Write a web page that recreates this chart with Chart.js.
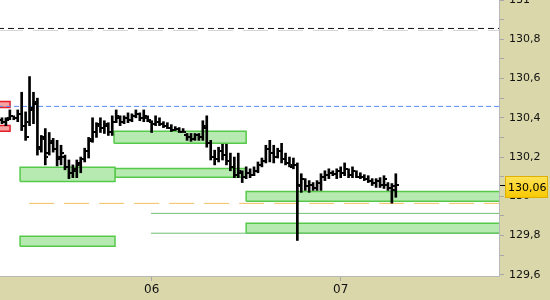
<!doctype html>
<html lang="en">
<head>
<meta charset="utf-8">
<title>Price chart</title>
<script src="https://cdn.jsdelivr.net/npm/chart.js"></script>
<style>
  html, body { margin: 0; padding: 0; background: #fff; }
  #wrap { width: 550px; height: 300px; }
</style>
</head>
<body>
<div id="wrap"><canvas id="price-chart"></canvas></div>

<script>
// half-hour bars, x = bar number from the left edge
var high = [130.40,130.40,130.44,130.41,130.44,130.53,130.43,130.61,130.53,130.50,
  130.31,130.345,130.325,130.295,130.285,130.26,130.21,130.185,130.16,130.185,
  130.20,130.245,130.30,130.40,130.375,130.40,130.385,130.375,130.41,130.44,
  130.41,130.41,130.425,130.42,130.44,130.425,130.44,130.41,130.385,130.41,
  130.40,130.38,130.375,130.365,130.355,130.35,130.345,130.32,130.32,130.32,
  130.32,130.385,130.41,130.285,130.235,130.25,130.265,130.265,130.22,130.20,
  130.22,130.13,130.15,130.14,130.15,130.175,130.195,130.26,130.285,130.26,
  130.245,130.27,130.22,130.20,130.195,130.17,130.115,130.09,130.08,130.07,
  130.08,130.115,130.13,130.14,130.13,130.14,130.15,130.17,130.14,130.15,
  130.13,130.12,130.11,130.105,130.09,130.09,130.095,130.105,130.07,130.065,
  130.115];
var low = [130.37,130.36,130.39,130.39,130.38,130.335,130.285,130.36,130.37,130.21,
  130.225,130.16,130.21,130.225,130.155,130.16,130.135,130.09,130.095,130.095,
  130.12,130.175,130.195,130.275,130.30,130.325,130.32,130.31,130.31,130.375,
  130.36,130.37,130.375,130.38,130.40,130.385,130.38,130.38,130.325,130.36,
  130.36,130.35,130.345,130.33,130.335,130.325,130.325,130.285,130.28,130.285,
  130.285,130.285,130.25,130.185,130.16,130.175,130.185,130.16,130.13,130.095,
  130.095,130.07,130.09,130.095,130.105,130.12,130.15,130.17,130.175,130.17,
  130.195,130.17,130.16,130.15,130.14,129.775,130.02,130.03,130.02,130.03,
  130.03,130.03,130.08,130.09,130.105,130.09,130.095,130.105,130.095,130.095,
  130.095,130.09,130.08,130.07,130.055,130.045,130.045,130.04,130.03,129.965,
  129.995];
var open = [130.39,130.38,130.40,130.41,130.40,130.42,130.36,130.38,130.44,130.47,
  130.25,130.30,130.22,130.27,130.24,130.19,130.20,130.15,130.12,130.13,
  130.16,130.19,130.23,130.29,130.33,130.37,130.35,130.36,130.33,130.38,
  130.40,130.38,130.40,130.39,130.41,130.42,130.40,130.40,130.38,130.37,
  130.38,130.37,130.36,130.35,130.34,130.345,130.33,130.31,130.30,130.29,
  130.31,130.30,130.36,130.27,130.20,130.19,130.23,130.21,130.18,130.15,
  130.11,130.12,130.10,130.12,130.11,130.13,130.16,130.18,130.24,130.22,
  130.20,130.23,130.19,130.17,130.15,130.16,130.06,130.09,130.05,130.06,
  130.04,130.07,130.10,130.11,130.12,130.115,130.13,130.12,130.14,130.11,
  130.13,130.10,130.10,130.09,130.08,130.07,130.08,130.06,130.06,130.04,
  130.03];
var close = [130.38,130.39,130.41,130.40,130.42,130.36,130.30,130.45,130.48,130.24,
  130.29,130.20,130.28,130.24,130.20,130.22,130.15,130.12,130.14,130.17,
  130.19,130.23,130.28,130.33,130.36,130.35,130.37,130.33,130.38,130.41,
  130.38,130.40,130.39,130.41,130.42,130.40,130.41,130.39,130.37,130.38,
  130.37,130.36,130.35,130.34,130.345,130.33,130.33,130.30,130.29,130.31,
  130.30,130.35,130.27,130.20,130.19,130.23,130.21,130.18,130.15,130.11,
  130.13,130.10,130.12,130.11,130.13,130.16,130.18,130.24,130.22,130.20,
  130.23,130.19,130.17,130.16,130.16,130.05,130.09,130.05,130.06,130.04,
  130.07,130.10,130.11,130.12,130.115,130.13,130.12,130.14,130.11,130.13,
  130.10,130.10,130.09,130.08,130.07,130.08,130.06,130.09,130.04,130.05,
  130.06];
var lastPrice = 130.06;

var dayTicks = [38, 86];
var dayLabels = ['06', '07'];

var yTicks = [129.6, 129.7, 129.8, 129.9, 130, 130.1, 130.2, 130.3, 130.4, 130.5, 130.6, 130.7, 130.8, 130.9, 131];
var yLabels = ['129,6', '', '129,8', '', '130', '', '130,2', '', '130,4', '', '130,6', '', '130,8', '', '131'];

// zones (from bar, to bar, top price, bottom price)
var greenFrom = [4.6, 28.7, 28.45, 62, 62, 4.6];
var greenTo = [28.7, 62, 62, 127, 127, 28.7];
var greenTop = [130.148, 130.142, 130.331, 130.025, 129.863, 129.796];
var greenBottom = [130.076, 130.097, 130.270, 129.975, 129.812, 129.746];
var redFrom = [-1, -1];
var redTo = [2.05, 2.05];
var redTop = [130.483, 130.361];
var redBottom = [130.453, 130.331];

// horizontal levels
var levelValue = [130.855, 130.845, 130.458, 129.964, 129.913, 129.812];
var levelFrom = [-1, -1, -1, 6.9, 37.85, 37.85];
var levelTo = [127, 127, 127, 127, 127, 127];
</script>

<script>
function tickMark(left) {
  var c = document.createElement('canvas');
  c.width = 6;
  c.height = 2;
  var g = c.getContext('2d');
  g.fillStyle = '#000';
  g.fillRect(left ? 0 : 4, 0, 2, 2);
  return c;
}

function box(x0, x1, top, bottom) {
  return [{x: x0, y: bottom}, {x: x0, y: top}, {x: x1, y: top}, {x: x1, y: bottom}, {x: x0, y: bottom}];
}

var datasets = [];

datasets.push({
  type: 'bar',
  data: high.map(function(h, i) { return {x: i, y: [low[i], h]}; }),
  backgroundColor: '#000',
  borderWidth: 0,
  barThickness: 2,
  order: 0
});
datasets.push({
  type: 'scatter',
  data: open.map(function(v, i) { return {x: i, y: v}; }),
  pointStyle: tickMark(true),
  pointRadius: 2,
  order: 0
});
datasets.push({
  type: 'scatter',
  data: close.map(function(v, i) { return {x: i, y: v}; }),
  pointStyle: tickMark(false),
  pointRadius: 2,
  order: 0
});

var levelStyle = [
  {color: '#111', dash: [6, 4], width: 1},
  {color: '#d4d4d4', dash: [25, 10], width: 1},
  {color: '#5a8ef2', dash: [5, 3], width: 1},
  {color: '#f2c064', dash: [25, 10], width: 1},
  {color: '#72c072', dash: [], width: 1},
  {color: '#72c072', dash: [], width: 1}
];
for (var k = 0; k < levelValue.length; k++) {
  datasets.push({
    type: 'line',
    data: [{x: levelFrom[k], y: levelValue[k]}, {x: levelTo[k], y: levelValue[k]}],
    borderColor: levelStyle[k].color,
    borderDash: levelStyle[k].dash,
    borderWidth: levelStyle[k].width,
    pointRadius: 0,
    fill: false,
    order: 3
  });
}

for (var k = 0; k < greenTop.length; k++) {
  datasets.push({
    type: 'line',
    data: box(greenFrom[k], greenTo[k], greenTop[k], greenBottom[k]),
    backgroundColor: '#b7eab1',
    borderColor: '#56c94a',
    borderWidth: 1.5,
    pointRadius: 0,
    fill: 'shape',
    order: 5
  });
}
for (var k = 0; k < redTop.length; k++) {
  datasets.push({
    type: 'line',
    data: box(redFrom[k], redTo[k], redTop[k], redBottom[k]),
    backgroundColor: '#f5a2a2',
    borderColor: '#e41e28',
    borderWidth: 1.5,
    pointRadius: 0,
    fill: 'shape',
    order: 5
  });
}

var panelBg = {
  id: 'panelBg',
  beforeDraw: function(chart) {
    var ctx = chart.ctx, a = chart.chartArea;
    ctx.save();
    ctx.fillStyle = '#dad8aa';
    ctx.fillRect(0, 0, chart.width, chart.height);
    ctx.fillStyle = '#fff';
    ctx.fillRect(a.left, a.top, a.right - a.left, a.bottom - a.top);
    ctx.restore();
  }
};

var priceTag = {
  id: 'priceTag',
  afterDraw: function(chart) {
    var ctx = chart.ctx, a = chart.chartArea;
    var y = Math.round(chart.scales.y.getPixelForValue(lastPrice));
    var left = a.right + 6, w = 43, h = 22, top = y - 9;
    ctx.save();
    ctx.strokeStyle = '#000';
    ctx.lineWidth = 1;
    ctx.beginPath();
    ctx.moveTo(a.right + 1, y + 0.5);
    ctx.lineTo(left, y + 0.5);
    ctx.stroke();
    var g = ctx.createLinearGradient(0, top, 0, top + h);
    g.addColorStop(0, '#ffe35a');
    g.addColorStop(1, '#f8c800');
    ctx.fillStyle = g;
    ctx.fillRect(left, top, w, h);
    ctx.strokeStyle = '#e0b000';
    ctx.strokeRect(left + 0.5, top + 0.5, w - 1, h - 1);
    ctx.fillStyle = '#000';
    ctx.font = '11px "DejaVu Sans"';
    ctx.textBaseline = 'middle';
    ctx.fillText(lastPrice.toFixed(2).replace('.', ','), left + 3, top + h / 2 + 1);
    ctx.restore();
  }
};

new Chart(document.getElementById('price-chart'), {
  type: 'bar',
  data: {datasets: datasets},
  plugins: [panelBg, priceTag],
  options: {
    responsive: true,
    maintainAspectRatio: false,
    animation: false,
    events: [],
    layout: {padding: 0, autoPadding: false},
    plugins: {legend: {display: false}, tooltip: {enabled: false}},
    scales: {
      x: {
        type: 'linear',
        min: -0.5,
        max: 126.2,
        offset: false,
        grid: {offset: false, drawOnChartArea: false, tickLength: 5, color: '#a8a8a8'},
        border: {color: '#b8b8b8'},
        afterBuildTicks: function(s) { s.ticks = dayTicks.map(function(v) { return {value: v}; }); },
        afterFit: function(s) { s.height = 24; s.paddingLeft = 0; s.paddingRight = 0; },
        ticks: {
          autoSkip: false,
          maxRotation: 0,
          padding: 2,
          color: '#111',
          font: {family: 'DejaVu Sans', size: 12},
          callback: function(v, i) { return dayLabels[i]; }
        }
      },
      y: {
        position: 'right',
        min: 129.594,
        max: 131,
        grid: {drawOnChartArea: false, tickLength: 5, color: '#a8a8a8'},
        border: {color: '#b8b8b8'},
        afterBuildTicks: function(s) { s.ticks = yTicks.map(function(v) { return {value: v}; }); },
        afterFit: function(s) { s.width = 51; s.paddingTop = 0; s.paddingBottom = 0; },
        ticks: {
          padding: 5,
          color: '#111',
          font: {family: 'DejaVu Sans', size: 11},
          callback: function(v, i) { return yLabels[i]; }
        }
      }
    }
  }
});
</script>
</body>
</html>
